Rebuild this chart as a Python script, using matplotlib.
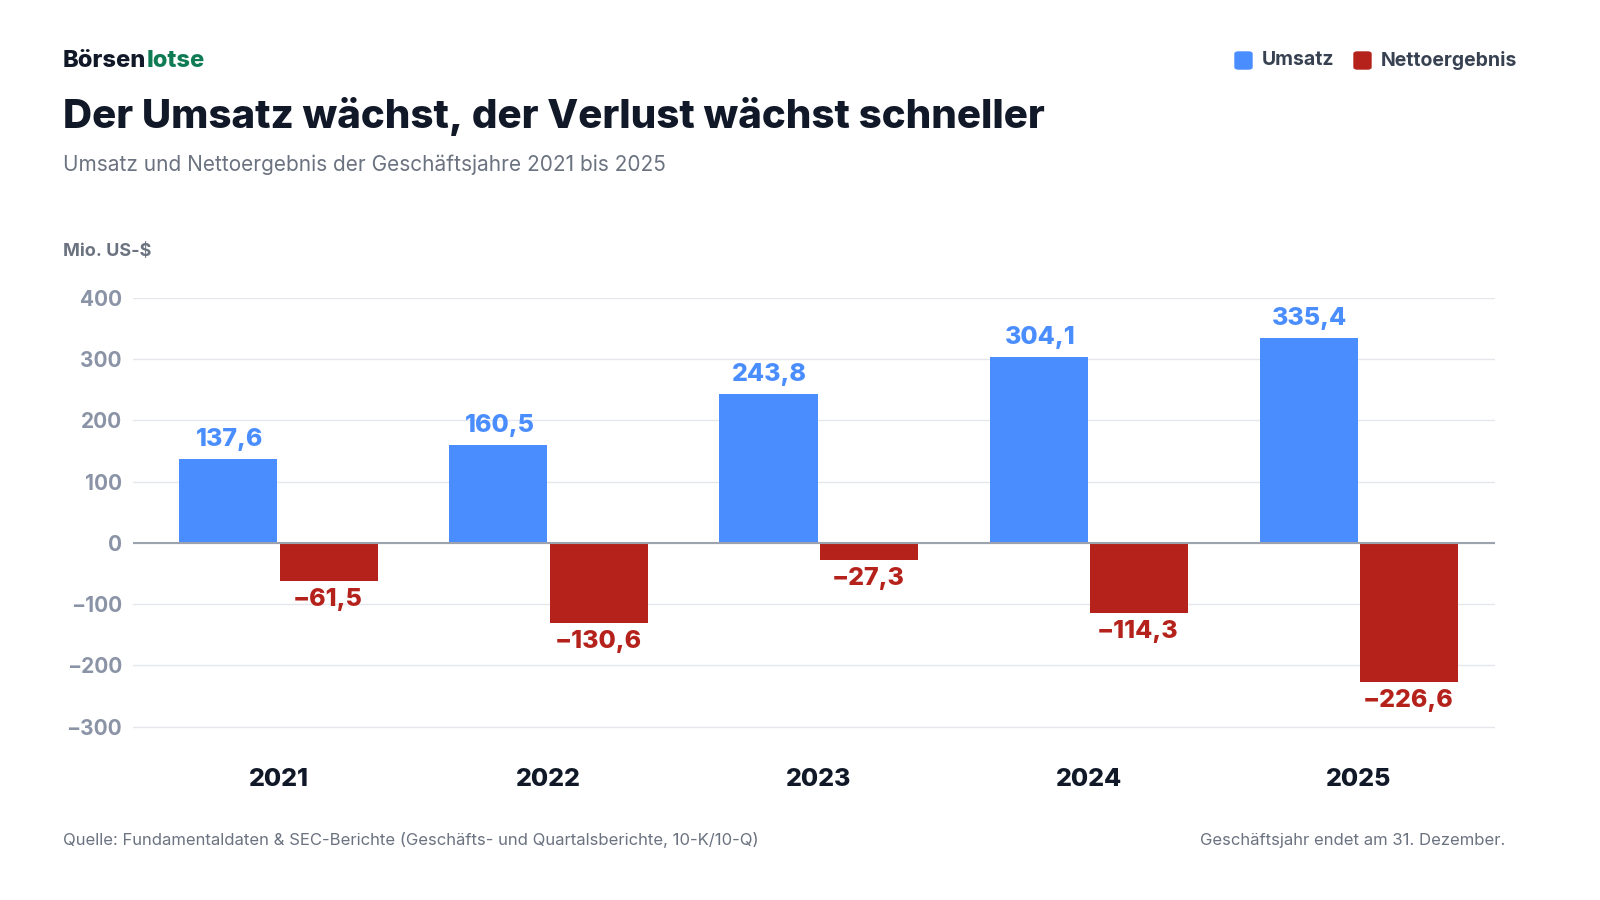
import matplotlib.pyplot as plt
import numpy as np
from matplotlib.patches import FancyBboxPatch

plt.rcParams['font.family'] = ['Inter', 'DejaVu Sans']

years = ['2021', '2022', '2023', '2024', '2025']
umsatz = [137.6, 160.5, 243.8, 304.1, 335.4]
netto = [-61.5, -130.6, -27.3, -114.3, -226.6]
yticks = [-300, -200, -100, 0, 100, 200, 300, 400]

blue = '#4A8DFF'
red = '#B5221B'
dark = '#111827'
grey = '#6B7280'

W, H = 1600, 900
fig = plt.figure(figsize=(16, 9), dpi=100)
ax = fig.add_axes([133 / W, 1 - 745 / H, (1495 - 133) / W, (745 - 298) / H])

x = np.arange(len(years))
bw = 0.363
ax.bar(x - bw / 2 - 0.005, umsatz, bw, color=blue, zorder=3)
ax.bar(x + bw / 2 + 0.005, netto, bw, color=red, zorder=3)

def fmt(v):
    s = f"{abs(v):.1f}".replace('.', ',')
    return ('\u2212' + s) if v < 0 else s

for xi, u, n in zip(x, umsatz, netto):
    ax.text(xi - bw / 2, u + 12, fmt(u), ha='center', va='bottom', color=blue,
            fontsize=18, fontweight='heavy')
    ax.text(xi + bw / 2, n - 12, fmt(n), ha='center', va='top', color=red,
            fontsize=18, fontweight='heavy')

ax.set_xlim(-0.54, 4.504)
ax.set_ylim(-330, 400)
ax.set_yticks(yticks)
ax.set_yticklabels([('\u2212' + str(-v)) if v < 0 else str(v) for v in yticks])
ax.tick_params(axis='y', length=0, labelsize=15, labelcolor='#8A94A6', pad=8)
for t in ax.get_yticklabels():
    t.set_fontweight('bold')
ax.set_xticks([])
ax.grid(axis='y', color='#E5E7EB', lw=1, zorder=0)
ax.axhline(0, color='#9CA3AF', lw=1.5, zorder=4)
for s in ax.spines.values():
    s.set_visible(False)
for xi, y in zip(x, years):
    fig.text((133 + (xi + 0.54) * 270) / W, 1 - 779 / H, y, ha='center', va='center',
             fontsize=18, fontweight='heavy', color=dark)

fig.text(63 / W, 1 - 61 / H, 'Börsen', fontsize=17, fontweight='heavy', color=dark, va='center')
fig.text(147 / W, 1 - 61 / H, 'lotse', fontsize=17, fontweight='heavy', color='#0F7B55', va='center')
fig.text(63 / W, 1 - 116 / H, 'Der Umsatz wächst, der Verlust wächst schneller', fontsize=29,
         fontweight='heavy', color=dark, va='center')
fig.text(63 / W, 1 - 165 / H, 'Umsatz und Nettoergebnis der Geschäftsjahre 2021 bis 2025',
         fontsize=15, color=grey, va='center')
fig.text(63 / W, 1 - 252 / H, 'Mio. US-$', fontsize=13, fontweight='bold', color=grey, va='center')
fig.text(63 / W, 1 - 840 / H, 'Quelle: Fundamentaldaten & SEC-Berichte (Geschäfts- und Quartalsberichte, 10-K/10-Q)',
         fontsize=12, color=grey, va='center')
fig.text(1505 / W, 1 - 840 / H, 'Geschäftsjahr endet am 31. Dezember.', fontsize=12,
         color=grey, va='center', ha='right')

for px, col, lab in [(1235, blue, 'Umsatz'), (1354, red, 'Nettoergebnis')]:
    fig.patches.append(FancyBboxPatch((px / W, 1 - 69 / H), 17 / W, 17 / H,
                       boxstyle='round,pad=0,rounding_size=0.002', transform=fig.transFigure,
                       color=col))
    fig.text((px + 27) / W, 1 - 60 / H, lab, fontsize=14, fontweight='bold', color='#374151', va='center')

fig.savefig('out.png', dpi=100)
